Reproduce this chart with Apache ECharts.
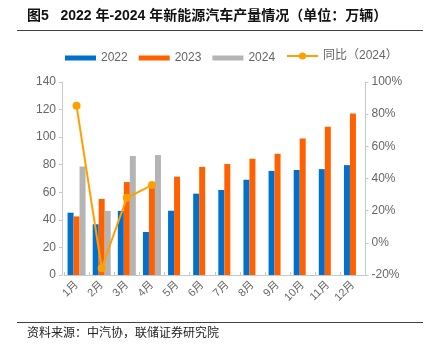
<!DOCTYPE html>
<html>
<head>
<meta charset="utf-8">
<script src="https://cdn.jsdelivr.net/npm/echarts@6/dist/echarts.min.js"></script>
<style>
  html, body { margin: 0; padding: 0; background: #fff; }
  #chart { width: 432px; height: 351px; }
</style>
</head>
<body>
<div id="chart"></div>
<script>
// Data
const months = ['1月', '2月', '3月', '4月', '5月', '6月', '7月', '8月', '9月', '10月', '11月', '12月'];
const prod2022 = [45.2, 36.8, 46.5, 31.2, 46.6, 59.0, 61.7, 69.1, 75.5, 76.2, 76.8, 79.7];
const prod2023 = [42.5, 55.2, 67.4, 64.0, 71.3, 78.4, 80.5, 84.3, 87.9, 99.0, 107.5, 117.2];
const prod2024 = [78.7, 46.5, 86.3, 87.0, null, null, null, null, null, null, null, null];
const yoy2024 = [85.2, -15.8, 28.0, 35.9, null, null, null, null, null, null, null, null];

const font = '"Liberation Sans", "Noto Sans CJK SC", sans-serif';
const cjkFont = '"Noto Sans CJK SC", sans-serif';
const labelColor = '#666';
const axisColor = '#c8c8c8';

const chart = echarts.init(document.getElementById('chart'));

const barSeries = (name, data, color) => ({
    name: name,
    type: 'bar',
    data: data,
    barWidth: 6,
    barGap: '0%',
    itemStyle: { color: color }
});

const legendText = { color: labelColor, fontSize: 12, fontFamily: font };

chart.setOption({
    animation: false,
    textStyle: { fontFamily: font },
    graphic: [
        {
            type: 'text', left: 27, top: 9,
            style: { text: '图5   2022 年-2024 年新能源汽车产量情况（单位：万辆）', font: 'bold 14px ' + font, fill: '#111' }
        },
        { type: 'line', shape: { x1: 17, y1: 30.5, x2: 423, y2: 30.5 }, style: { stroke: '#404040', lineWidth: 1 } },
        { type: 'line', shape: { x1: 17, y1: 322.5, x2: 423, y2: 322.5 }, style: { stroke: '#404040', lineWidth: 1 } },
        {
            type: 'text', left: 27, top: 326,
            style: { text: '资料来源：中汽协，联储证券研究院', font: '12px ' + cjkFont, fill: '#222' }
        }
    ],
    legend: [
        {
            left: 60, top: 47,
            itemWidth: 31, itemHeight: 5, itemGap: 11,
            textStyle: legendText,
            data: [
                { name: '2022', icon: 'rect' },
                { name: '2023', icon: 'rect' },
                { name: '2024', icon: 'rect' }
            ]
        },
        {
            left: 281, top: 45,
            itemWidth: 31, itemHeight: 9,
            textStyle: legendText,
            data: ['同比（2024）']
        }
    ],
    grid: { left: 64, right: 66.5, top: 82, bottom: 76 },
    xAxis: {
        type: 'category',
        data: months,
        axisLine: { lineStyle: { color: axisColor } },
        axisTick: { show: true, inside: true, length: 3, lineStyle: { color: axisColor } },
        axisLabel: { color: labelColor, fontSize: 11, rotate: 45, margin: 8 }
    },
    yAxis: [
        {
            type: 'value', min: 0, max: 140, interval: 20, offset: 2,
            axisLine: { show: true, lineStyle: { color: axisColor } },
            axisTick: { show: true, length: 3, lineStyle: { color: axisColor } },
            axisLabel: { color: labelColor, fontSize: 12, margin: 6 },
            splitLine: { show: false }
        },
        {
            type: 'value', min: -20, max: 100, interval: 20,
            axisLine: { show: true, lineStyle: { color: axisColor } },
            axisTick: { show: true, length: 3, lineStyle: { color: axisColor } },
            axisLabel: { color: labelColor, fontSize: 12, margin: 6, formatter: '{value}%' },
            splitLine: { show: false }
        }
    ],
    series: [
        barSeries('2022', prod2022, '#0070CC'),
        barSeries('2023', prod2023, '#FF6000'),
        barSeries('2024', prod2024, '#B4B4B4'),
        {
            name: '同比（2024）',
            type: 'line',
            yAxisIndex: 1,
            data: yoy2024,
            symbol: 'circle',
            symbolSize: 8,
            itemStyle: { color: '#FFA000' },
            lineStyle: { color: '#FFA000', width: 2 }
        }
    ]
});
</script>
</body>
</html>
